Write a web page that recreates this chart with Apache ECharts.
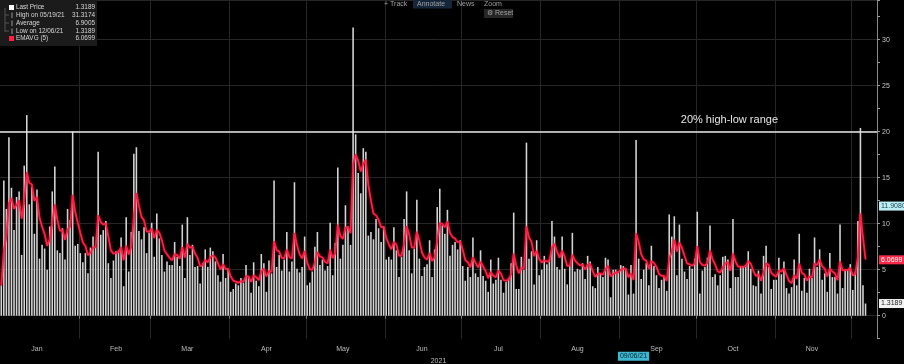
<!DOCTYPE html>
<html><head><meta charset="utf-8">
<script src="https://cdn.jsdelivr.net/npm/echarts@6/dist/echarts.min.js"></script>
<style>html,body{margin:0;padding:0;background:#000;}#c{width:904px;height:364px;}</style>
</head><body><div id="c"></div>
<script>
// Daily high-low range (%) per month, 2021
const jan = [3.3,14.7,11.6,19.4,13.9,9.3,12.9,13.5,6.6,16.3,21.8,12.1,14.0,8.9,13.7,6.2,7.7,7.3,5.0,9.7,13.5,16.2,7.1,6.8,9.5,6.1,11.6,10.4,20.0,7.6,7.8];
const feb = [6.8,5.8,6.8,4.6,7.4,8.6,7.5,17.8,8.8,9.3,10.3,5.7,4.1,6.0,7.0,7.1,8.5,3.2,10.7,4.8,9.1,17.6,18.3,9.2,8.3,9.6,6.8,9.0];
const mar = [10.1,6.4,11.1,8.4,6.6,4.8,5.9,5.5,5.5,8.0,6.4,5.4,9.9,4.1,10.7,6.6,7.7,5.3,5.4,3.5,5.7,7.2,5.3,7.4,7.0,5.9,4.4,3.7,6.7,4.1,5.1];
const apr = [2.6,2.9,3.5,3.3,4.1,3.6,5.5,4.2,2.5,5.8,3.8,3.2,6.7,5.7,2.6,6.0,4.6,14.7,5.3,6.6,4.9,6.1,9.1,4.8,5.9,14.5,5.1,4.7,5.3,8.6];
const may = [3.3,3.6,4.8,7.5,9.1,5.5,6.1,4.9,5.4,10.1,4.4,7.9,16.1,6.2,7.7,12.0,9.7,7.7,31.3174,19.7,15.5,13.3,18.2,17.8,8.7,9.1,8.3,10.5,9.5,8.0,9.7];
const jun = [6.1,6.4,6.1,9.6,7.1,4.2,6.4,10.5,13.5,7.1,4.6,7.3,12.6,6.2,4.3,5.3,5.6,8.2,4.2,7.2,11.8,13.8,9.8,8.9,11.5,6.5,7.7,8.0,7.2,8.2];
const jul = [5.4,3.8,5.3,4.2,8.5,4.6,4.2,7.1,4.3,3.8,2.6,6.1,3.5,3.9,6.3,3.9,2.5,3.7,4.1,5.7,11.2,2.9,2.9,6.4,5.0,18.8,6.2,7.0,3.4,8.2,4.4];
const aug = [5.0,6.5,5.6,6.1,10.3,8.6,5.3,5.0,8.6,5.1,3.4,5.4,9.0,4.8,5.1,5.0,5.7,4.0,6.5,5.9,3.2,3.0,5.3,4.6,4.2,6.3,6.1,2.0,5.0,5.0,4.8];
const sep = [5.5,5.4,5.1,2.3,5.5,2.4,19.1,6.2,4.0,5.0,5.7,3.3,7.6,5.4,4.4,3.0,3.9,4.3,2.7,11.0,8.6,10.8,4.4,9.9,6.2,4.8,4.0,5.4,5.1,6.2];
const oct = [11.3,2.4,4.9,5.3,6.3,9.8,4.2,4.5,3.3,4.4,6.4,6.5,6.1,3.0,10.5,4.2,4.2,5.3,5.3,5.5,7.0,5.1,3.3,3.2,4.9,2.4,6.5,7.6,5.3,2.9,3.9];
const nov = [3.9,6.3,4.5,5.9,3.0,2.4,3.1,6.1,3.3,8.9,2.7,4.1,2.5,5.1,4.1,8.5,5.3,7.2,3.9,4.6,2.6,6.8,4.2,4.2,2.4,9.9,3.0,5.0,5.0,5.6];
const dec = [2.8,4.8,10.3,20.4,3.3,1.3189];

const monthNames = ['Jan','Feb','Mar','Apr','May','Jun','Jul','Aug','Sep','Oct','Nov','Dec'];
const yTickLabels = [0,5,10,15,20,25,30];
const legendRows = [
  ['Last Price','1.3189'],
  ['High on 05/19/21','31.3174'],
  ['Average','6.9005'],
  ['Low on 12/06/21','1.3189'],
  ['EMAVG (5)','6.0699']
];
const rangeLevel = 20;
const rangeText = '20% high-low range';
const lastPriceText = '1.3189';
const lastEmaValue = 6.0699;
const lastEmaText = '6.0699';
const crossDate = '2021-09-06';
const crossDateText = '09/06/21';
const crossValue = 11.908;
const crossValueText = '11.9080';
const yearText = '2021';
const emaPeriod = 5;
const toolbarItems = ['+ Track','Annotate','News','Zoom'];

// build axis categories: daily from Jan 1 to Dec 10, 2021
const axisDays = 344;
const dates = [];
for (let i = 0; i < axisDays; i++) {
  dates.push(new Date(Date.UTC(2021,0,1) + i*86400000).toISOString().slice(0,10));
}
const values = [].concat(jan,feb,mar,apr,may,jun,jul,aug,sep,oct,nov,dec);
const barData = dates.map((d,i) => i < values.length ? values[i] : null);
const alpha = 2/(emaPeriod+1);
const emaData = [];
let e = null;
for (let i = 0; i < dates.length; i++) {
  if (i < values.length) {
    e = (e === null) ? values[i] : e + alpha*(values[i]-e);
    emaData.push(+e.toFixed(4));
  } else emaData.push(null);
}
const lastPrice = values[values.length-1];

const FONT = 'Liberation Sans';
const chart = echarts.init(document.getElementById('c'), null, {renderer:'canvas'});

const legendGraphics = [{
  type:'rect', left:0, top:0, shape:{width:97, height:46}, style:{fill:'#1b1b1b'}, z:100
}];
legendRows.forEach((r,i) => {
  const y = 4.5 + i*7.8;
  legendGraphics.push({type:'text', left:16, top:y, z:101, style:{text:r[0], fill:'#d6d6d6', font:'6.4px '+FONT}});
  legendGraphics.push({type:'text', right:904-95, top:y, z:101, style:{text:r[1], fill:'#d6d6d6', font:'6.4px '+FONT}});
});
legendGraphics.push({type:'rect', left:9, top:5, shape:{width:5,height:5}, style:{fill:'#ffffff'}, z:101});
legendGraphics.push({type:'rect', left:9, top:36, shape:{width:5,height:5}, style:{fill:'#ff1f44'}, z:101});
legendGraphics.push({type:'line', shape:{x1:5,y1:8,x2:5,y2:32}, style:{stroke:'#555',lineWidth:1}, z:101});
[12,20,28].forEach((y,i)=>{
  legendGraphics.push({type:'line', shape:{x1:5,y1:y+3,x2:9,y2:y+3}, style:{stroke:'#555',lineWidth:1}, z:101});
  legendGraphics.push({type:'line', shape:{x1:12,y1:y+0.5,x2:12,y2:y+6}, style:{stroke:'#999',lineWidth:1}, z:101});
});

const toolbarGraphics = [];
const tbX = [384, 417, 457, 484];
toolbarItems.forEach((t,i) => {
  if (t === 'Annotate') toolbarGraphics.push({type:'rect', left:413, top:0, shape:{width:39,height:8.5}, style:{fill:'#16263a'}, z:100});
  toolbarGraphics.push({type:'text', left:tbX[i], top:0.5, z:101, style:{text:t, fill:'#a0a0a0', font:'7px '+FONT}});
});
toolbarGraphics.push({type:'rect', left:484, top:9, shape:{width:29,height:9}, style:{fill:'#262626'}, z:100});
toolbarGraphics.push({type:'text', left:487, top:10, z:101, style:{text:'\u2699 Reset', fill:'#a0a0a0', font:'7px '+FONT}});

const hidden = {color:'rgba(0,0,0,0)', width:0, opacity:1};
const option = {
  backgroundColor:'#000',
  animation:false,
  grid:{left:0, right:27, top:0, bottom:25.3, outerBoundsMode:'none', containLabel:false},
  xAxis:{
    type:'category', data:dates, boundaryGap:true,
    name: yearText, nameLocation:'middle', nameGap:10,
    nameTextStyle:{color:'#bdbdbd', fontSize:7, fontFamily:FONT},
    axisLine:{show:false},
    axisTick:{show:true, length:3, lineStyle:{color:'#777'}, interval:(i,v)=>v.slice(8)==='01' && i>0},
    axisLabel:{color:'#bdbdbd', fontSize:7, fontFamily:FONT, margin:7,
      interval:(i,v)=>v.slice(8)==='15',
      formatter:(v)=>monthNames[+v.slice(5,7)-1]},
    splitLine:{show:true, interval:(i,v)=>v.slice(8)==='01' && i>0, lineStyle:{color:'#262626', width:1}}
  },
  yAxis:{
    type:'value', position:'right', min:-2.5, max:34.3, interval:2.5,
    axisLine:{show:true, lineStyle:{color:'#8a8a8a'}},
    axisTick:{show:true, length:3, lineStyle:{color:'#9a9a9a'}},
    axisLabel:{color:'#c8c8c8', fontSize:7, fontFamily:FONT, margin:5,
      formatter:(v)=> yTickLabels.indexOf(v) >= 0 ? String(v) : ''},
    splitLine:{show:true, lineStyle:{color:['rgba(0,0,0,0)','#262626'], width:1}}
  },
  series:[
    {
      type:'bar', data:barData, barWidth:'62%',
      itemStyle:{color:'#d4d4d4'},
      z:2,
      markLine:{
        silent:true, symbol:'none', animation:false,
        data:[
          {yAxis:rangeLevel, lineStyle:{color:'#e6e6e6', width:1.5, type:'solid'},
           label:{show:true, position:'insideEndTop', formatter:rangeText, color:'#e6e6e6', fontSize:11, fontFamily:FONT, distance:[99,6]}},
          {yAxis:lastPrice, lineStyle:hidden,
           label:{show:true, opacity:1, position:'end', formatter:lastPriceText, backgroundColor:'#f2f2f2', color:'#222', fontSize:7, fontFamily:FONT, padding:[1,2,1,2], distance:2}},
          {xAxis:crossDate, lineStyle:hidden,
           label:{show:true, opacity:1, position:'start', formatter:crossDateText, backgroundColor:'#3fb6cf', color:'#0a2630', fontSize:7, fontFamily:FONT, padding:[1,2,1,2], distance:13}}
        ]
      }
    },
    {
      type:'line', data:emaData, symbol:'none', smooth:false, z:3,
      lineStyle:{color:'#ff1f44', width:1.8, shadowColor:'rgba(255,20,60,0.6)', shadowBlur:3},
      markLine:{
        silent:true, symbol:'none', animation:false,
        data:[
          {yAxis:lastEmaValue, lineStyle:hidden,
           label:{show:true, opacity:1, position:'end', formatter:lastEmaText, backgroundColor:'#ff2a4a', color:'#fff', fontSize:7, fontFamily:FONT, padding:[1,2,1,2], distance:2}},
          {yAxis:crossValue, lineStyle:hidden,
           label:{show:true, opacity:1, position:'end', formatter:crossValueText, backgroundColor:'#bdeef6', color:'#1a4452', fontSize:7, fontFamily:FONT, padding:[1,2,1,2], distance:2}}
        ]
      }
    }
  ],
  graphic: legendGraphics.concat(toolbarGraphics)
};
chart.setOption(option);
</script></body></html>
